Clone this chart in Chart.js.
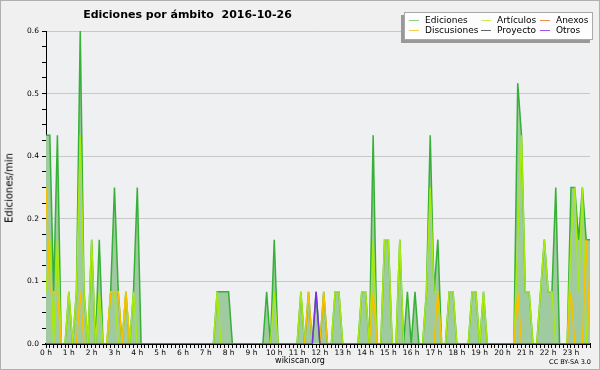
<!DOCTYPE html>
<html>
<head>
<meta charset="utf-8">
<script src="https://cdn.jsdelivr.net/npm/chart.js@4/dist/chart.umd.min.js"></script>
<style>
  body { margin: 0; background: #fff; }
  #wrap { position: relative; width: 600px; height: 370px; font-family: "DejaVu Sans", sans-serif; }
  #chart { position: absolute; left: 0; top: 0; }
  .txt { position: absolute; white-space: nowrap; color: #000; }
  #title { left: 0; width: 375px; top: 8px; text-align: center; font-weight: bold; font-size: 11px; line-height: 14px; }
  #ytitle { left: 9px; top: 188px; font-size: 10px; transform: translate(-50%, -50%) rotate(-90deg); }
  #site { left: 300px; top: 356px; font-size: 8px; transform: translateX(-50%); }
  #cc { right: 9px; top: 358px; font-size: 6.5px; }
  #legend { position: absolute; left: 404px; top: 12px; width: 187px; height: 26px; background: #fdfdfd;
            border: 1px solid #a8a8a8; box-shadow: -3px 3px 0 #999; font-size: 9px; }
  .item { position: absolute; height: 10px; line-height: 10px; }
  .item i { position: absolute; left: 0; top: 5px; width: 10px; height: 1px; }
  .item span { position: absolute; left: 16px; top: 0; }
</style>
</head>
<body>
<div id="wrap">
  <canvas id="chart" width="600" height="370"></canvas>
  <div id="title" class="txt">Ediciones por ámbito&nbsp;&nbsp;2016-10-26</div>
  <div id="ytitle" class="txt">Ediciones/min</div>
  <div id="site" class="txt">wikiscan.org</div>
  <div id="cc" class="txt">CC BY-SA 3.0</div>
  <div id="legend"></div>
</div>
<script>
// one value every 10 minutes (144 bins), edits per minute
const horas = ["0 h","1 h","2 h","3 h","4 h","5 h","6 h","7 h","8 h","9 h","10 h","11 h",
               "12 h","13 h","14 h","15 h","16 h","17 h","18 h","19 h","20 h","21 h","22 h","23 h"];

const ediciones = [
  0.4,0.4,0.1,0.4,0,0, 0.1,0,0.1,0.6,0.1,0,
  0.2,0,0.2,0,0,0.1, 0.3,0.1,0,0.1,0,0.1,
  0.3,0,0,0,0,0, 0,0,0,0,0,0,
  0,0,0,0,0,0, 0,0,0,0.1,0.1,0.1,
  0.1,0,0,0,0,0, 0,0,0,0,0.1,0,
  0.2,0,0,0,0,0, 0,0.1,0,0.1,0,0.1,
  0,0.1,0,0,0.1,0.1, 0,0,0,0,0,0.1,
  0.1,0,0.4,0,0,0.2, 0.2,0,0,0.2,0,0.1,
  0,0.1,0,0,0.1,0.4, 0.1,0.2,0,0,0.1,0.1,
  0,0,0,0,0.1,0.1, 0,0.1,0,0,0,0,
  0,0,0,0,0.5,0.4, 0.1,0.1,0,0,0.1,0.2,
  0.1,0.1,0.3,0,0,0, 0.3,0.3,0.2,0.3,0.2,0.2
];
const articulos = [
  0.1,0.2,0,0.2,0,0, 0.1,0,0.1,0.4,0.1,0,
  0.2,0,0.1,0,0,0.1, 0.1,0,0,0.1,0,0.1,
  0,0,0,0,0,0, 0,0,0,0,0,0,
  0,0,0,0,0,0, 0,0,0,0.1,0,0,
  0,0,0,0,0,0, 0,0,0,0,0,0,
  0.1,0,0,0,0,0, 0,0.1,0,0,0,0,
  0,0,0,0,0.1,0.1, 0,0,0,0,0,0.1,
  0.1,0,0.2,0,0,0.2, 0.2,0,0,0.2,0,0,
  0,0,0,0,0.1,0.3, 0.1,0.1,0,0,0.1,0.1,
  0,0,0,0,0.1,0.1, 0,0.1,0,0,0,0,
  0,0,0,0,0.2,0.4, 0.1,0.1,0,0,0.1,0.2,
  0.1,0.1,0,0,0,0, 0.2,0.3,0.1,0.3,0,0.1
];
const discusiones = [
  0.3,0.1,0.1,0.1,0,0, 0,0,0,0.1,0,0,
  0,0,0,0,0,0.1, 0.1,0.1,0,0.1,0,0,
  0,0,0,0,0,0, 0,0,0,0,0,0,
  0,0,0,0,0,0, 0,0,0,0,0,0,
  0,0,0,0,0,0, 0,0,0,0,0,0,
  0,0,0,0,0,0, 0,0,0,0.1,0,0,
  0,0.1,0,0,0,0, 0,0,0,0,0,0,
  0,0,0.1,0,0,0, 0,0,0,0,0,0,
  0,0,0,0,0,0, 0,0.1,0,0,0,0,
  0,0,0,0,0,0, 0,0,0,0,0,0,
  0,0,0,0,0.1,0, 0,0,0,0,0,0,
  0,0,0,0,0,0, 0.1,0,0,0,0.2,0
];
const otros = [
  0,0,0,0,0,0, 0,0,0,0,0,0,
  0,0,0,0,0,0, 0,0,0,0,0,0,
  0,0,0,0,0,0, 0,0,0,0,0,0,
  0,0,0,0,0,0, 0,0,0,0,0,0,
  0,0,0,0,0,0, 0,0,0,0,0,0,
  0,0,0,0,0,0, 0,0,0,0,0,0.1,
  0,0,0,0,0,0, 0,0,0,0,0,0,
  0,0,0,0,0,0, 0,0,0,0,0,0,
  0,0,0,0,0,0, 0,0,0,0,0,0,
  0,0,0,0,0,0, 0,0,0,0,0,0,
  0,0,0,0,0,0, 0,0,0,0,0,0,
  0,0,0,0,0,0, 0,0,0,0,0,0
];

// legend (same order as the reference box)
const leyenda = [
  ["Ediciones", "#8fd08f", 0, 0], ["Artículos", "#c8ee60", 1, 0], ["Anexos", "#ef8a5a", 2, 0],
  ["Discusiones", "#f5cf4a", 0, 1], ["Proyecto", "#666666", 1, 1], ["Otros", "#9a55e8", 2, 1]
];
const colX = [4, 76, 135];
const legendBox = document.getElementById("legend");
leyenda.forEach(([name, color, col, row]) => {
  const d = document.createElement("div");
  d.className = "item";
  d.style.left = colX[col] + "px";
  d.style.top = (2 + row * 10) + "px";
  d.innerHTML = `<i style="background:${color}"></i><span>${name}</span>`;
  legendBox.appendChild(d);
});

const pts = arr => arr.map((v, i) => ({ x: i, y: v }));
const isMajor = v => Math.round(v * 100) % 12 === 0;
const tickFont = { family: "DejaVu Sans", size: 7.5 };

const background = {
  id: "background",
  beforeDraw(chart) {
    const { ctx, chartArea: a } = chart;
    ctx.save();
    ctx.fillStyle = "#f0f0f0";
    ctx.fillRect(0, 0, chart.width, chart.height);
    ctx.fillStyle = "#eef0f2";
    ctx.fillRect(a.left, a.top, a.right - a.left, a.bottom - a.top);
    ctx.strokeStyle = "#b0b0b0";
    ctx.lineWidth = 1;
    ctx.strokeRect(0.5, 0.5, chart.width - 1, chart.height - 1);
    ctx.restore();
  }
};

new Chart(document.getElementById("chart"), {
  type: "line",
  data: {
    datasets: [
      { label: "Otros", data: pts(otros), borderColor: "#7a2ee0", borderWidth: 1.5, order: 1 },
      { label: "Discusiones", data: pts(discusiones), borderColor: "#f7c000", borderWidth: 1.5, order: 2 },
      { label: "Artículos", data: pts(articulos), borderColor: "#a6ea10", borderWidth: 1.5, order: 3 },
      { label: "Ediciones", data: pts(ediciones), borderColor: "#36b036", borderWidth: 1.5,
        fill: "origin", backgroundColor: "#a0caa0", order: 4 }
    ]
  },
  options: {
    responsive: false,
    animation: false,
    events: [],
    elements: { point: { radius: 0 }, line: { tension: 0 } },
    layout: { padding: { left: 0, right: 10, top: 31, bottom: 0 } },
    plugins: { legend: { display: false }, tooltip: { enabled: false } },
    scales: {
      x: {
        type: "linear", min: 0, max: 143,
        afterFit: s => { s.height = 26; },
        border: { color: "#000", width: 2 },
        grid: { drawOnChartArea: false, tickLength: 4, tickColor: "#000" },
        ticks: {
          stepSize: 1, autoSkip: false, maxRotation: 0, padding: 1,
          font: tickFont, color: "#000",
          callback: v => (v % 6 === 0 ? horas[v / 6] : "")
        }
      },
      y: {
        min: 0, max: 0.6,
        afterFit: s => { s.width = 46; },
        border: { color: "#000", width: 1 },
        grid: {
          tickLength: 4, tickColor: "#000",
          color: c => (c.tick && c.tick.value > 0 && isMajor(c.tick.value) ? "#c8c8c8" : "rgba(0,0,0,0)")
        },
        ticks: {
          stepSize: 0.03, autoSkip: false, padding: 3,
          font: tickFont, color: "#000",
          callback: v => (isMajor(v) ? v.toFixed(1) : "")
        }
      }
    }
  },
  plugins: [background]
});
</script>
</body>
</html>
